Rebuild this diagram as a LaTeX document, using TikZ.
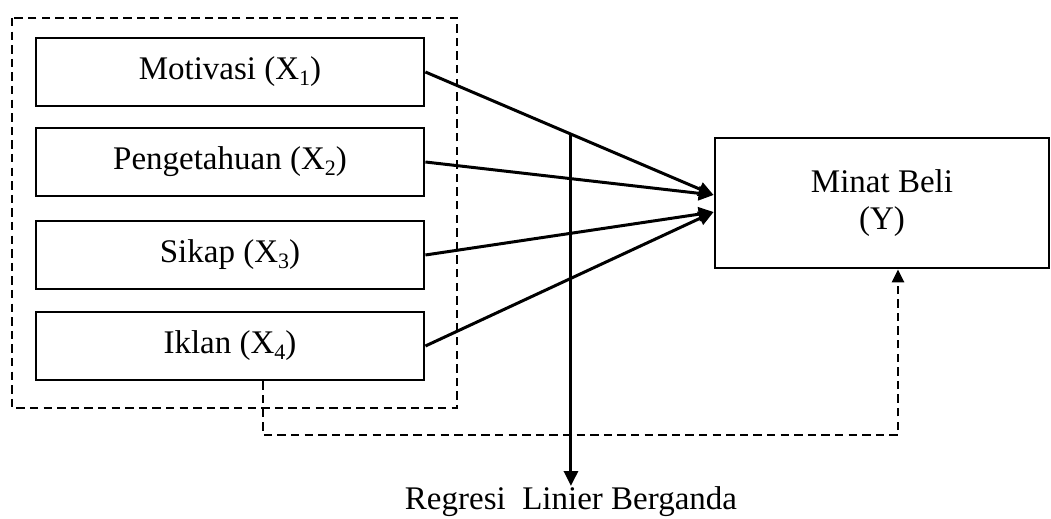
\documentclass[tikz,border=0pt]{standalone}
\usepackage{fontspec}
\setmainfont{Liberation Serif}
\usetikzlibrary{arrows.meta,calc}
\newcommand\subidx[1]{\raisebox{-0.18em}{\fontsize{11}{11}\selectfont #1}}
\begin{document}
\begin{tikzpicture}[x=0.5pt,y=-0.5pt,
  box/.style={draw,line width=1.4pt,minimum width=194pt,minimum height=34pt,inner sep=0pt,
    font=\fontsize{16.5}{18.5}\selectfont},
  arr/.style={line width=1.5pt,-{Triangle[length=7.5pt,width=7pt]}},
  dsh/.style={line width=1.45pt,dash pattern=on 4.2pt off 2.6pt},
  dsharr/.style={dsh,-{Triangle[length=6.5pt,width=6pt]}},
  lbl/.style={inner sep=0pt,font=\fontsize{16.5}{18.5}\selectfont}]
\useasboundingbox (0,0) rectangle (1051,519);
\draw[dsh] (12,18) rectangle (457,408);
\node[box] (x1) at (230,72) {Motivasi (X\subidx{1})};
\node[box] (x2) at (230,162) {Pengetahuan (X\subidx{2})};
\node[box] (x3) at (230,255) {Sikap (X\subidx{3})};
\node[box] (x4) at (230,346) {Iklan (X\subidx{4})};
\node[box,minimum width=167pt,minimum height=65pt,align=center] (y) at (882,203) {Minat Beli\\(Y)};
\coordinate (t1) at ([yshift=4pt]y.west);
\coordinate (t2) at ([yshift=-4.5pt]y.west);
\draw[arr] (x1.east) -- (t1);
\draw[arr] (x2.east) -- (t1);
\draw[arr] (x3.east) -- (t2);
\draw[arr] (x4.east) -- (t2);
\coordinate (r0) at ($(x1.east)!0.505!(t1)$);
\node[lbl,anchor=base] (reg) at (571,509) {Regresi\ \ Linier Berganda};
\coordinate (r1) at (571,486);
\draw[arr] (r0) -- (r0 |- r1);
\coordinate (dlow) at (0,435);
\draw[dsharr] ([xshift=16.5pt]x4.south) coordinate (ds) -- (ds |- dlow) -| ([xshift=8pt]y.south);
\end{tikzpicture}
\end{document}
